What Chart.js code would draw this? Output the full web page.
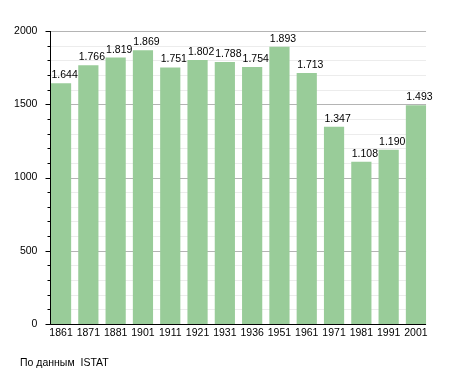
<!DOCTYPE html>
<html>
<head>
<meta charset="utf-8">
<script src="https://cdn.jsdelivr.net/npm/chart.js@4/dist/chart.umd.min.js"></script>
<style>
  html, body { margin: 0; padding: 0; background: #fff; }
  #wrap { position: relative; width: 455px; height: 373px; }
  #note { position: absolute; left: 20px; top: 356px; font: 10.5px "Liberation Sans", Arial, sans-serif; color: #000; white-space: pre; }
</style>
</head>
<body>
<div id="wrap">
  <canvas id="myChart" width="455" height="373"></canvas>
  <div id="note">По данным  ISTAT</div>
</div>
<script>
var years = ["1861","1871","1881","1901","1911","1921","1931","1936","1951","1961","1971","1981","1991","2001"];
var population = [1644,1766,1819,1869,1751,1802,1788,1754,1893,1713,1347,1108,1190,1493];
var yMax = 2000;
var majorStep = 500;
var minorStep = 100;

var barColor = "#99cc99";
var fontFamily = "'Liberation Sans', Arial, sans-serif";

function fmt(n) {
    return n.toString().replace(/\B(?=(\d{3})+(?!\d))/g, ".");
}

// grid, axes, tick marks and value labels
var decor = {
    id: "decor",
    beforeDatasetsDraw: function (chart) {
        var ctx = chart.ctx;
        var y = chart.scales.y;
        var bars = chart.getDatasetMeta(0).data;
        var x0 = bars[0].x - bars[0].width / 2 - 1;
        var x1 = bars[bars.length - 1].x + bars[bars.length - 1].width / 2;
        ctx.save();
        y.ticks.forEach(function (t) {
            var py = Math.round(y.getPixelForValue(t.value)) + 0.5;
            ctx.strokeStyle = (t.value % majorStep === 0) ? "#b4b4b4" : "#ececec";
            ctx.lineWidth = 1;
            ctx.beginPath();
            ctx.moveTo(x0, py);
            ctx.lineTo(x1, py);
            ctx.stroke();
        });
        ctx.restore();
    },
    afterDatasetsDraw: function (chart) {
        var ctx = chart.ctx;
        var y = chart.scales.y;
        var bars = chart.getDatasetMeta(0).data;
        var x0 = Math.round(bars[0].x - bars[0].width / 2) - 0.5;
        var x1 = bars[bars.length - 1].x + bars[bars.length - 1].width / 2;
        var top = y.getPixelForValue(yMax);
        var bottom = Math.round(y.getPixelForValue(0)) + 0.5;
        ctx.save();
        ctx.strokeStyle = "#000";
        ctx.lineWidth = 1;
        ctx.beginPath();
        ctx.moveTo(x0, top);
        ctx.lineTo(x0, bottom);
        ctx.lineTo(x1, bottom);
        ctx.stroke();
        y.ticks.forEach(function (t) {
            var py = Math.round(y.getPixelForValue(t.value)) + 0.5;
            var len = (t.value % majorStep === 0) ? 5 : 3;
            ctx.beginPath();
            ctx.moveTo(x0 - len, py);
            ctx.lineTo(x0, py);
            ctx.stroke();
        });
        ctx.fillStyle = "#000";
        ctx.font = "10.5px " + fontFamily;
        ctx.textAlign = "left";
        ctx.textBaseline = "alphabetic";
        bars.forEach(function (bar, i) {
            ctx.fillText(fmt(population[i]), bar.x - bar.width / 2 + 0.5, bar.y - 5);
        });
        ctx.restore();
    }
};

var ctx = document.getElementById("myChart").getContext("2d");
var myChart = new Chart(ctx, {
    type: "bar",
    data: {
        labels: years,
        datasets: [{
            data: population,
            backgroundColor: barColor,
            borderWidth: 0,
            categoryPercentage: 1.0,
            barPercentage: 0.74
        }]
    },
    options: {
        responsive: false,
        animation: false,
        events: [],
        layout: { padding: { left: 7.4, right: 25.4, top: 31, bottom: 0 } },
        plugins: {
            legend: { display: false },
            tooltip: { enabled: false }
        },
        scales: {
            x: {
                grid: { display: false, drawTicks: false },
                border: { display: false },
                ticks: {
                    color: "#000",
                    padding: 3,
                    maxRotation: 0,
                    autoSkip: false,
                    font: { family: fontFamily, size: 10.5 }
                },
                afterFit: function (scale) { scale.height = 49; }
            },
            y: {
                min: 0,
                max: yMax,
                grid: { display: false, drawTicks: false },
                border: { display: false },
                ticks: {
                    stepSize: minorStep,
                    autoSkip: false,
                    color: "#000",
                    padding: 10,
                    font: { family: fontFamily, size: 10.5 },
                    callback: function (v) { return v % majorStep === 0 ? v : ""; }
                },
                afterFit: function (scale) { scale.width = 40; }
            }
        }
    },
    plugins: [decor]
});
</script>
</body>
</html>
